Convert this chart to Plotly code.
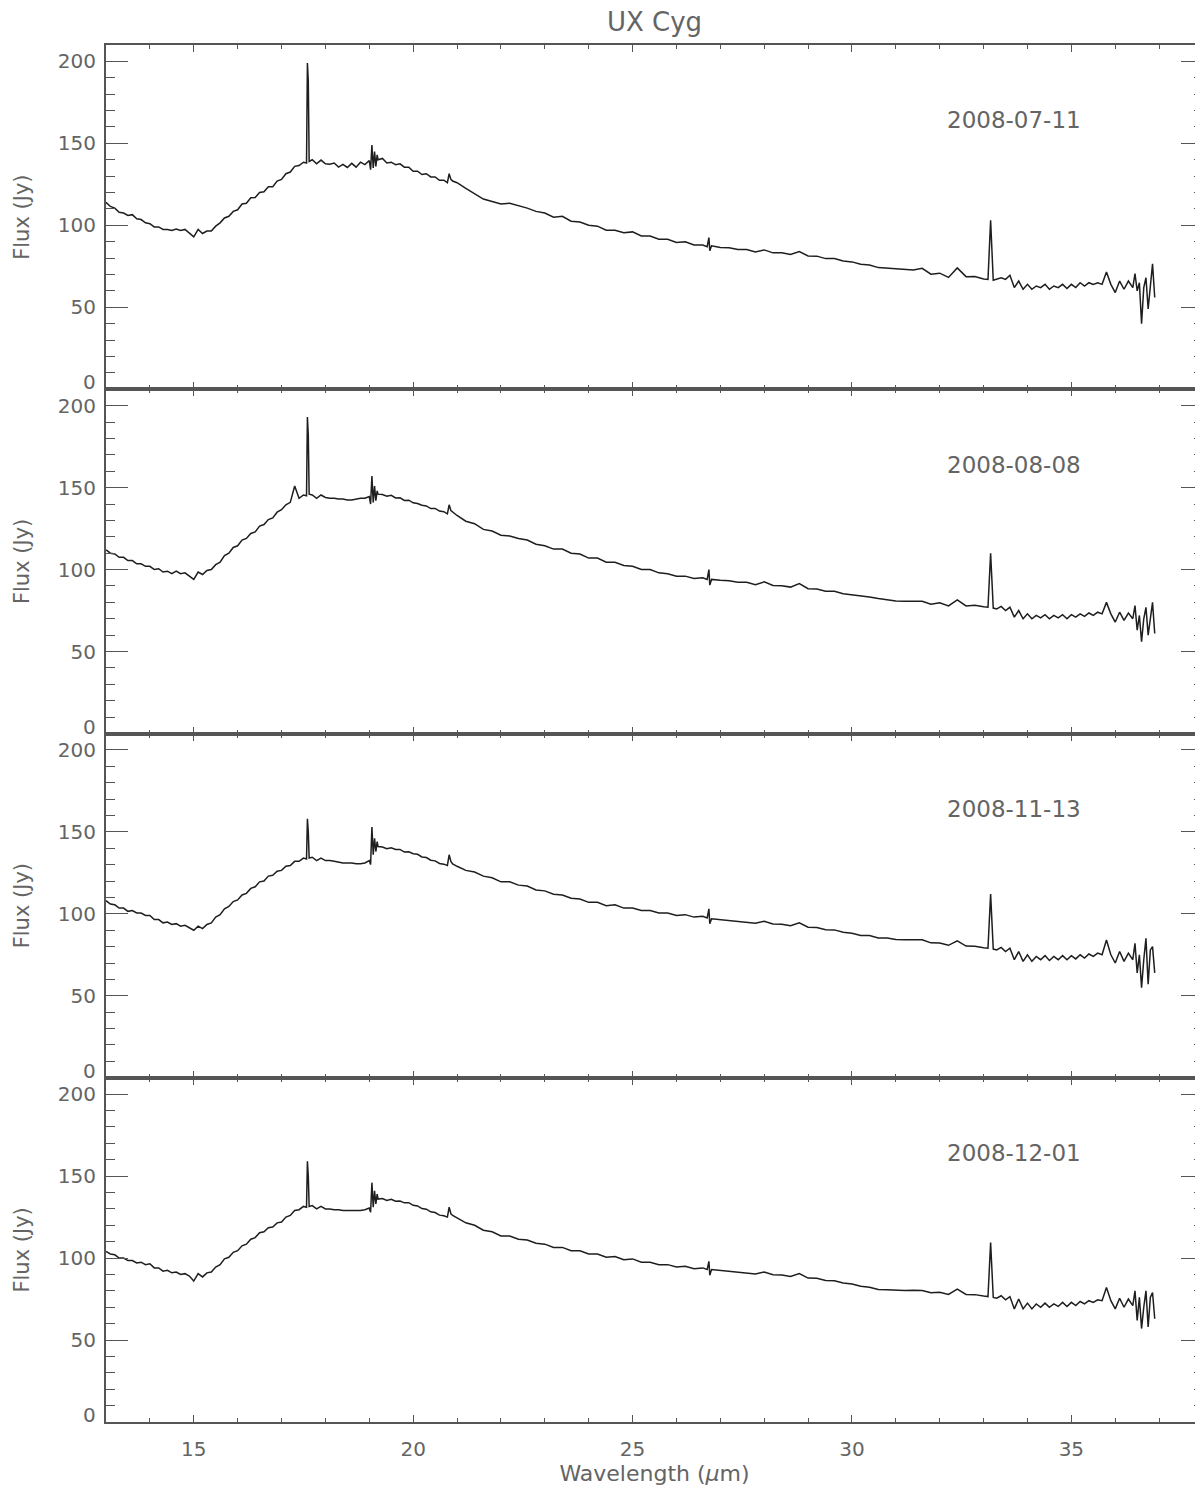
import plotly.graph_objects as go
from plotly.subplots import make_subplots

# Wavelength sampling (micron)
wavelength = [
    13.0, 13.1, 13.2, 13.3, 13.4, 13.5, 13.6, 13.7, 13.8, 13.9,
    14.0, 14.1, 14.2, 14.3, 14.4, 14.5, 14.6, 14.7, 14.8, 14.9,
    15.0, 15.1, 15.2, 15.3, 15.4, 15.5, 15.6, 15.7, 15.8, 15.9,
    16.0, 16.1, 16.2, 16.3, 16.4, 16.5, 16.6, 16.7, 16.8, 16.9,
    17.0, 17.1, 17.2, 17.3, 17.4, 17.5,
    17.57, 17.59, 17.61, 17.63,
    17.7, 17.8, 17.9, 18.0, 18.1, 18.2, 18.3, 18.4, 18.5, 18.6, 18.7, 18.8, 18.9, 19.0,
    19.03, 19.06, 19.09, 19.12, 19.15, 19.18,
    19.2, 19.3, 19.4, 19.5, 19.6, 19.7, 19.8, 19.9, 20.0, 20.1, 20.2, 20.3, 20.4, 20.5, 20.6, 20.7,
    20.78, 20.82, 20.86, 20.9,
    21.0, 21.2, 21.4, 21.6, 21.8, 22.0, 22.2, 22.4, 22.6, 22.8,
    23.0, 23.2, 23.4, 23.6, 23.8, 24.0, 24.2, 24.4, 24.6, 24.8,
    25.0, 25.2, 25.4, 25.6, 25.8, 26.0, 26.2, 26.4, 26.6,
    26.7, 26.74, 26.76, 26.8,
    27.0, 27.2, 27.4, 27.6, 27.8, 28.0, 28.2, 28.4, 28.6, 28.8,
    29.0, 29.2, 29.4, 29.6, 29.8, 30.0, 30.2, 30.4, 30.6, 30.8,
    31.0, 31.2, 31.4, 31.6, 31.8, 32.0, 32.2, 32.4, 32.6, 32.8, 33.0,
    33.1, 33.16, 33.22,
    33.3, 33.4, 33.5, 33.6, 33.7, 33.8, 33.9, 34.0, 34.1, 34.2,
    34.3, 34.4, 34.5, 34.6, 34.7, 34.8, 34.9, 35.0, 35.1, 35.2,
    35.3, 35.4, 35.5, 35.6, 35.7, 35.8, 35.9, 36.0, 36.1, 36.2, 36.3, 36.4,
    36.45, 36.5, 36.55, 36.6, 36.65, 36.7, 36.75, 36.8, 36.85, 36.9,
]

flux_20080711 = [
    114, 111.5, 110.5, 108, 107.5, 106, 106.5, 104, 103.5, 101.5,
    101, 99, 99, 97.5, 97.5, 96.8, 97.8, 96.8, 97.5, 95.5,
    93, 97.5, 95, 96.5, 96.5, 99.5, 101.5, 104.5, 105.5, 108.5,
    109.5, 113, 113.5, 116.8, 117, 120, 120.5, 123.5, 123.5, 127,
    128, 131.5, 132.5, 136, 136.5, 138.5,
    138, 199, 188, 139,
    140, 137.5, 139.8, 137.5, 137.3, 138, 135.5, 137.2, 135.3, 137.8, 135.5, 138.5, 137, 139.5,
    134, 149, 135, 145, 136, 143,
    140, 140.8, 138, 138.5, 137, 137.5, 135.5, 135.5, 133, 133, 131, 131.5, 129.5, 129.5, 127.5, 127.5,
    126, 131.5, 128, 127,
    126, 122.5, 119, 116, 114.5, 113, 113.5, 112, 110.5, 108.5,
    107.5, 105, 105.5, 102.5, 102, 100, 99.5, 97, 97, 95.5,
    96, 93.5, 93.5, 91.5, 91.5, 89.5, 90, 88, 88,
    87, 92.5, 84.5, 87.5,
    86.5, 86.3, 85.2, 85.3, 83.7, 85, 83.2, 83.3, 82.2, 84,
    81.3, 81.2, 79.7, 79.8, 78.2, 77.7, 76.2, 75.8, 74.2, 73.8,
    73.2, 72.8, 72.7, 73.8, 70.2, 70.8, 68.2, 74, 68.7, 68.8, 67.2,
    67, 103, 66.5,
    67, 68, 67, 69.5, 62, 66, 61, 64, 61, 63,
    62, 64, 61, 63, 62, 64, 61.5, 64, 62, 65,
    63, 65, 64, 65, 64, 71.5, 64, 59, 66, 61, 66, 62,
    70.5, 60, 65, 40, 62, 68, 49, 62, 76.5, 56,
]

flux_20080808 = [
    112, 110, 109.5, 107.5, 107.5, 105.5, 105.5, 103.5, 103.5, 102,
    102, 100, 100.5, 98.5, 99, 97.5, 99, 97.5, 98, 96,
    94, 98.5, 97, 99.5, 100, 103, 104.5, 108.5, 110, 113.5,
    114.5, 118, 119, 122, 123, 126.5, 127.5, 130.5, 131.5, 135,
    136.5, 139.5, 141, 151, 143.5, 145.5,
    145, 193, 182, 146,
    145.5, 143.5, 145.5, 144, 143.5, 143.5, 143, 143, 142.5, 142.5, 143, 143.5, 143.5, 144.5,
    140, 157, 141, 151, 142, 148,
    146, 145.8, 144.7, 145.3, 143.7, 143.8, 142.2, 142.3, 140.7, 140.3, 139.2, 138.8, 137.2, 137.3, 135.7, 135.3,
    134, 139.5, 136, 135,
    133, 129.5, 128, 124.5, 123.5, 121, 120.5, 119, 118, 115.5,
    114.5, 112.5, 112.5, 110, 109.5, 107, 107, 104.5, 104.5, 102.5,
    102, 100, 100, 98, 97.5, 96, 96, 94.5, 95,
    94, 100, 90.5, 94,
    93.5, 93.2, 92.3, 92.2, 90.8, 92.5, 90.3, 90.2, 89.3, 91.5,
    88.3, 88.2, 86.8, 86.7, 85.3, 84.7, 83.8, 83.2, 82.3, 81.7,
    80.8, 80.7, 80.8, 80.7, 78.8, 79.7, 77.8, 81.5, 77.8, 78.2, 77.3,
    77, 110, 76.5,
    76, 77.5, 75, 77, 71, 75, 70, 73, 70, 72,
    70.5, 72.5, 70, 72, 70.5, 72.5, 70, 72.5, 71, 73,
    71.5, 73.5, 72, 74, 73, 80, 73, 68, 74, 69, 73.5, 70,
    78, 63, 72, 56, 70, 77, 60, 72, 80, 61,
]

flux_20081113 = [
    108, 106, 105.5, 103.5, 103.5, 101.5, 102, 100.5, 100.5, 99,
    99, 96.5, 96.5, 94.5, 95, 93.5, 94, 92.5, 93, 91.5,
    90, 92.5, 91, 93.5, 94.5, 98, 99.5, 103, 104.5, 107.5,
    108.5, 111.5, 112.5, 115.5, 116.5, 119.5, 120, 123, 123.5, 126,
    126.5, 129, 129.5, 132, 132, 134,
    133.5, 158, 150, 134,
    134.5, 132.5, 134, 132.5, 132.5, 132, 131.5, 131, 131, 131, 130.5, 130.5, 131, 132.5,
    130, 153, 136, 146, 138, 144,
    141, 140.8, 139.7, 140.3, 139.2, 139.3, 137.7, 137.8, 136.7, 136.3, 134.7, 134.3, 132.7, 132.3, 130.7, 130.3,
    129.5, 136, 132, 130.5,
    129, 126.5, 125.5, 123, 122, 119.5, 119.5, 117.5, 117, 114.5,
    114, 112, 111.5, 109.5, 109, 107, 107, 105, 105.5, 103.5,
    103.5, 102, 102, 100.5, 100.5, 99, 99.5, 98, 98.5,
    97.5, 103, 94, 97,
    96.5, 96.2, 95.3, 95.2, 94.3, 95.5, 93.8, 93.7, 92.8, 94.5,
    91.8, 91.7, 90.3, 90.2, 88.8, 88.2, 86.8, 86.7, 85.3, 85.2,
    84.3, 84.2, 84.3, 84.2, 82.3, 82.2, 80.8, 83.5, 80.3, 80.2, 79.3,
    79, 112, 78.5,
    78, 79.5, 77, 79, 72, 77, 71, 75, 71, 74,
    72, 74.5, 71.5, 74, 72, 74.5, 72, 74.5, 72.5, 75,
    73, 75.5, 74, 76, 75, 84, 75, 70, 77, 71, 76, 72,
    82, 64, 75, 55, 72, 85, 57, 78, 80, 64,
]

flux_20081201 = [
    104, 102.5, 102, 100, 100, 98.5, 98.5, 97, 97.5, 96,
    96.5, 94, 94, 92, 92.5, 91, 91.5, 90, 90.5, 89,
    86, 90.5, 88.5, 91, 91.5, 94.5, 96, 99.5, 100.5, 103.5,
    104.5, 107.5, 108.5, 111.5, 112.5, 115.5, 116, 118.5, 119, 121.5,
    122, 125, 126, 129, 129.5, 131.5,
    131, 159, 150, 131.5,
    132, 130, 131.5, 130, 130, 129.5, 129.5, 129, 129, 129, 129, 129, 129.5, 130.5,
    128, 146, 131, 141, 133, 139,
    136, 136.3, 135.2, 135.8, 134.7, 134.8, 133.7, 133.8, 132.2, 131.8, 130.2, 129.8, 128.2, 127.8, 126.2, 125.8,
    125, 131, 127, 126,
    124.5, 121.5, 120, 117, 116, 113.5, 113.5, 111.5, 111, 109,
    108.5, 106.5, 106.5, 104.5, 104.5, 102.5, 102.5, 100.5, 101, 99,
    99.5, 97.5, 97.5, 96, 96, 94.5, 95, 93.5, 94,
    93, 98, 89.5, 93,
    92.5, 92.2, 91.3, 91.2, 90.3, 91.5, 89.8, 89.7, 88.8, 90.5,
    87.8, 87.7, 86.3, 86.2, 84.8, 84.2, 82.8, 82.2, 80.8, 80.7,
    80.3, 80.2, 80.3, 80.2, 78.8, 79.2, 77.8, 81, 77.8, 77.7, 76.8,
    76.5, 109.5, 76,
    75.5, 77, 74.5, 76.5, 69, 75, 69, 72.5, 69, 72,
    70, 72.5, 70, 72, 70.5, 73, 70.5, 73, 71, 73.5,
    72, 74, 73, 74.5, 74, 82, 74, 69, 75.5, 70, 75, 71,
    80, 62, 76, 57, 70, 80, 58, 76, 79, 63,
]

dates = ["2008-07-11", "2008-08-08", "2008-11-13", "2008-12-01"]
series = [flux_20080711, flux_20080808, flux_20081113, flux_20081201]
y_ticks = [0, 50, 100, 150, 200]
y_ticktext = ["", "50", "100", "150", "200"]   # the "0" label is raised, drawn below
x_ticks = [15, 20, 25, 30, 35]

# the page puts the figure 8 px in from the top-left corner
W, H = 1195, 1488
FONT = "DejaVu Sans"
TXT = "#646464"
AX = "#555555"

fig = make_subplots(rows=4, cols=1, shared_xaxes=True, vertical_spacing=0)

for i, (d, f) in enumerate(zip(dates, series)):
    r = i + 1
    yref = "y" if r == 1 else f"y{r}"
    fig.add_trace(
        go.Scatter(x=wavelength, y=f, mode="lines",
                   line=dict(color="#1e1e1e", width=1.5),
                   showlegend=False, hoverinfo="x+y"),
        row=r, col=1)
    fig.add_annotation(x=33.7, y=164, text=d, showarrow=False,
                       font=dict(family=FONT, size=23, color=TXT),
                       row=r, col=1)
    # raised "0" tick label of each panel
    fig.add_annotation(xref="paper", x=0, xanchor="right", xshift=-8,
                       yref=yref, y=0, yanchor="middle", yshift=7,
                       text="0", showarrow=False,
                       font=dict(family=FONT, size=20, color=TXT))
    fig.update_yaxes(
        range=[0, 210], tickvals=y_ticks, ticktext=y_ticktext,
        ticks="inside", ticklen=22, ticklabelstandoff=4,
        tickwidth=1, tickcolor=AX, showline=True, linecolor=AX, linewidth=2,
        mirror="allticks", showgrid=False, zeroline=False, automargin=False,
        tickfont=dict(family=FONT, size=20, color=TXT),
        minor=dict(dtick=10, tick0=0, ticks="inside", ticklen=9,
                   tickcolor=AX, tickwidth=1, showgrid=False),
        title=dict(text="Flux (Jy)", font=dict(family=FONT, size=21, color=TXT),
                   standoff=22),
        row=r, col=1)
    fig.update_xaxes(
        range=[13, 38], tickvals=x_ticks, ticks="inside", ticklen=7,
        tickwidth=1, tickcolor=AX, showline=True, linecolor=AX, linewidth=2,
        mirror="allticks", showgrid=False, zeroline=False, automargin=False,
        tickfont=dict(family=FONT, size=20, color=TXT),
        minor=dict(dtick=1, tick0=0, ticks="inside", ticklen=4,
                   tickcolor=AX, tickwidth=1, showgrid=False),
        row=r, col=1)

fig.update_xaxes(title=dict(text="Wavelength (<i>μ</i>m)",
                            font=dict(family=FONT, size=22, color=TXT),
                            standoff=6),
                 ticklabelstandoff=8, row=4, col=1)

fig.update_layout(
    width=W, height=H,
    margin=dict(l=98, r=0, t=37, b=74, autoexpand=False),
    paper_bgcolor="white", plot_bgcolor="white",
    title=dict(text="UX Cyg", xref="paper", x=0.5, xanchor="center",
               yref="container", y=1 - 14 / H, yanchor="middle",
               font=dict(family=FONT, size=26, color=TXT)),
)

fig.write_html("out.html")
